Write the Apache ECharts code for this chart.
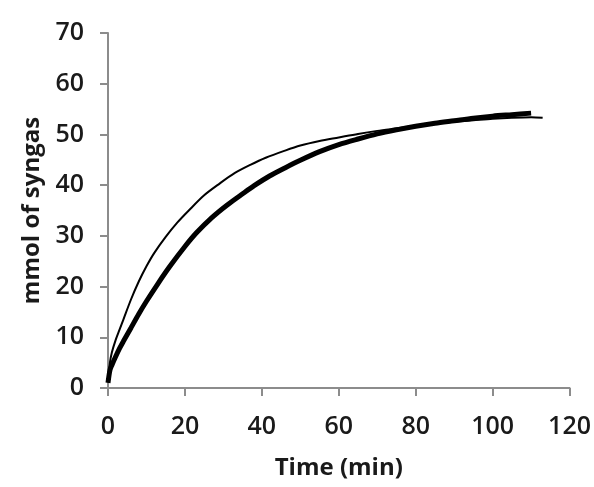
<!DOCTYPE html>
<html>
<head>
<meta charset="utf-8">
<script src="https://cdn.jsdelivr.net/npm/echarts@6/dist/echarts.min.js"></script>
<style>
  html, body { margin: 0; padding: 0; background: #fff; }
  #chart { width: 594px; height: 487px; }
</style>
</head>
<body>
<div id="chart"></div>
<script>
// time (min) and mmol of syngas
const thinTime = [0, 0.5, 1, 2, 3, 4, 6, 8, 10, 12, 15, 18, 21, 25, 29, 33, 37, 41, 46, 50, 55, 60, 65, 70, 75, 80, 85, 90, 95, 100, 105, 110, 113]
const thinValue = [1.5, 5, 7, 9.5, 11.5, 13.5, 17.5, 21, 24, 26.6, 29.8, 32.6, 35, 38, 40.3, 42.4, 44, 45.4, 46.8, 47.8, 48.7, 49.4, 50.1, 50.7, 51.2, 51.7, 52.1, 52.5, 52.8, 53.1, 53.3, 53.4, 53.3]

const thickTime = [0, 0.5, 1, 2, 3, 4, 6, 8, 10, 13, 16, 20, 23, 27, 31, 35, 38, 42, 46, 50, 55, 60, 65, 70, 75, 80, 85, 90, 95, 100, 105, 110]
const thickValue = [1, 3.5, 4.5, 6.2, 7.8, 9.2, 11.9, 14.6, 17.1, 20.6, 23.9, 27.9, 30.6, 33.6, 36.1, 38.3, 39.9, 41.8, 43.4, 44.9, 46.6, 48, 49.1, 50.1, 50.9, 51.6, 52.2, 52.7, 53.2, 53.6, 53.9, 54.2]

const xTicks = [0, 120, 20]   // min, max, interval
const yTicks = [0, 70, 10]

const toPairs = (xs, ys) => xs.map((x, i) => [x, ys[i]])

const chart = echarts.init(document.getElementById('chart'))

const axisLine = { show: true, lineStyle: { color: '#8c8c8c', width: 2 } }
const axisTick = { show: true, inside: false, length: 8, lineStyle: { color: '#8c8c8c', width: 2 } }
const labelFont = { color: '#1a1a1a', fontFamily: 'Open Sans', fontSize: 25, fontWeight: 600 }
const nameFont = { color: '#1a1a1a', fontFamily: 'Open Sans', fontSize: 24, fontWeight: 'bold' }

chart.setOption({
  animation: false,
  grid: {
    left: 108,
    right: 21,
    top: 33,
    bottom: 99,
    containLabel: false
  },
  xAxis: {
    type: 'value',
    min: xTicks[0],
    max: xTicks[1],
    interval: xTicks[2],
    name: 'Time (min)',
    nameLocation: 'middle',
    nameGap: 68,
    nameTextStyle: nameFont,
    axisLine: axisLine,
    axisTick: axisTick,
    splitLine: { show: false },
    axisLabel: Object.assign({ margin: 26 }, labelFont)
  },
  yAxis: {
    type: 'value',
    min: yTicks[0],
    max: yTicks[1],
    interval: yTicks[2],
    name: 'mmol of syngas',
    nameLocation: 'middle',
    nameGap: 63,
    nameTextStyle: nameFont,
    axisLine: axisLine,
    axisTick: axisTick,
    splitLine: { show: false },
    axisLabel: Object.assign({ margin: 24 }, labelFont)
  },
  series: [
    {
      type: 'line',
      data: toPairs(thickTime, thickValue),
      smooth: 0.3,
      showSymbol: false,
      lineStyle: { color: '#000', width: 5 }
    },
    {
      type: 'line',
      data: toPairs(thinTime, thinValue),
      smooth: 0.3,
      showSymbol: false,
      lineStyle: { color: '#000', width: 2 }
    }
  ]
})
</script>
</body>
</html>
